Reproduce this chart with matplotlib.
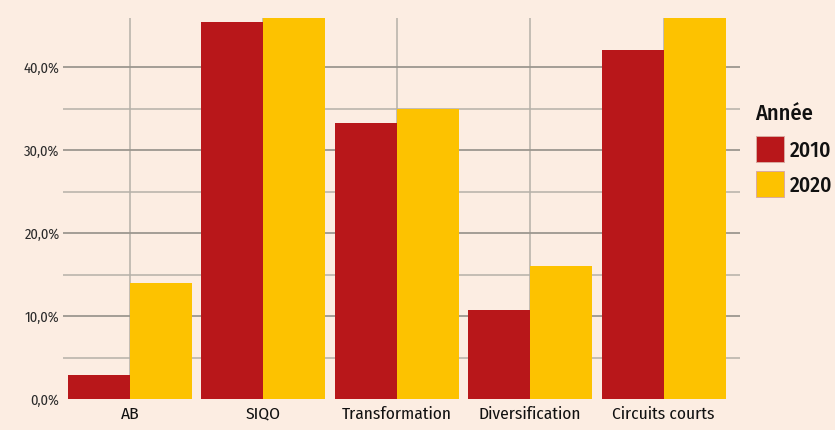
import matplotlib.pyplot as plt
import numpy as np
from matplotlib.patches import Rectangle

plt.rcParams['font.family'] = ['Fira Sans Condensed', 'Roboto Condensed', 'PT Sans Narrow',
                               'Open Sans Condensed', 'Archivo Narrow', 'DejaVu Sans']

# data
categories = ['AB', 'SIQO', 'Transformation', 'Diversification', 'Circuits courts']
years = ['2010', '2020']
share_2010 = [2.9, 45.4, 33.3, 10.7, 42.0]
share_2020 = [14.0, 47.5, 34.9, 16.0, 47.5]
yticks = [0, 10, 20, 30, 40]
yminor = [5, 15, 25, 35]

bg = '#fcede2'
red = '#b8171a'
yellow = '#fdc200'
colors = [red, yellow]
grid_major = '#9c978f'
grid_minor = '#b5b0a8'

fig = plt.figure(figsize=(8.35, 4.3), dpi=100, facecolor=bg)
ax = fig.add_axes([0.0755, 0.072, 0.8105, 0.886], facecolor=bg)

x = np.arange(len(categories))
w = 0.465
ax.bar(x - w / 2, share_2010, w, color=red, zorder=3)
ax.bar(x + w / 2, share_2020, w, color=yellow, zorder=3)

ax.set_xlim(-0.5, 4.57)
ax.set_ylim(0, 45.9)

ax.set_yticks(yticks)
ax.set_yticklabels(['%d,0%%' % v for v in yticks], fontsize=10.5, color='#2a2a2a')
ax.set_yticks(yminor, minor=True)
ax.set_xticks(x)
ax.set_xticklabels(categories, fontsize=12.5, color='#111111')

ax.grid(axis='y', which='major', color=grid_major, linewidth=1.3, zorder=0)
ax.grid(axis='y', which='minor', color=grid_minor, linewidth=1.1, zorder=0)
ax.grid(axis='x', which='major', color=grid_minor, linewidth=1.1, zorder=0)
ax.get_ygridlines()[0].set_visible(False)
ax.tick_params(axis='both', which='both', length=0)
ax.tick_params(axis='y', pad=2.5)
ax.tick_params(axis='x', pad=5)
for s in ax.spines.values():
    s.set_visible(False)

# legend, placed by hand
fig.text(0.904, 0.721, 'Année', fontsize=16, fontweight='medium', color='#111111',
         va='baseline', ha='left')
key_y = [0.6233, 0.5419]
for yr, c, ky in zip(years, colors, key_y):
    fig.patches.append(Rectangle((0.9054, ky), 0.0335, 0.0615, transform=fig.transFigure,
                                 facecolor=c, edgecolor='#d9aaa0', linewidth=0.7))
    fig.text(0.946, ky + 0.031, yr, fontsize=15.5, fontweight='medium', color='#111111',
             va='center_baseline', ha='left')

fig.savefig('out.png', dpi=100, facecolor=bg)
plt.close(fig)
